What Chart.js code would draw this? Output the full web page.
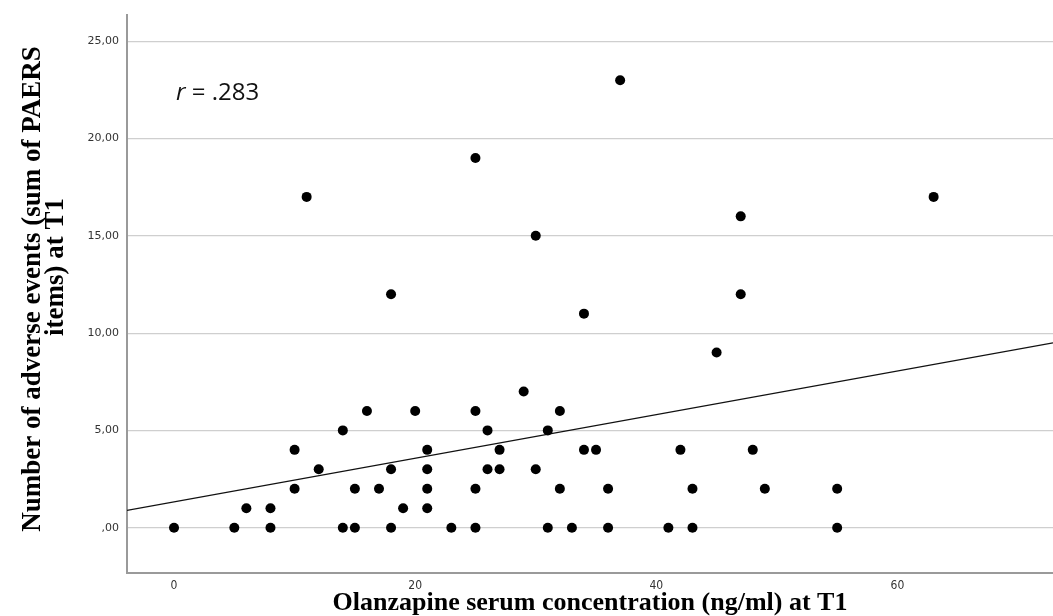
<!DOCTYPE html>
<html>
<head>
<meta charset="utf-8">
<script src="https://cdn.jsdelivr.net/npm/chart.js@4"></script>
<style>
html, body { margin: 0; padding: 0; overflow: hidden; background: #fff; }
#wrap { width: 1053px; height: 616px; position: relative; }
</style>
</head>
<body>
<div id="wrap"><canvas id="scatterChart"></canvas></div>
<script>
// Olanzapine serum concentration (ng/ml) at T1
const concentration = [0,5,6,8,8,10,10,11,12,14,14,15,15,16,17,18,18,18,19,20,21,21,21,21,23,25,25,25,25,26,26,27,27,29,30,30,31,31,32,32,33,34,34,35,36,36,37,41,42,43,43,45,47,47,48,49,55,55,63];
// number of adverse events (sum of PAERS items)
const events = [0,0,1,0,1,2,4,17,3,0,5,0,2,6,2,0,3,12,1,6,1,2,3,4,0,0,2,6,19,3,5,3,4,7,3,15,0,5,2,6,0,4,11,4,0,2,23,0,4,0,2,9,12,16,4,2,0,2,17];

// fit line ends
const fitX = [-3.9, 72.9];
const fitY = [0.89, 9.5];

const xTicks = [0, 20, 40, 60];
const yTicks = [0, 5, 10, 15, 20, 25];
const yTickLabels = [",00", "5,00", "10,00", "15,00", "20,00", "25,00"];

let points = concentration.map((c, i) => ({x: c, y: events[i]}));
let fitPoints = fitX.map((x, i) => ({x: x, y: fitY[i]}));

// axis titles and r label
const titlesPlugin = {
  id: 'titles',
  afterDraw(chart) {
    const ctx = chart.ctx;
    const area = chart.chartArea;
    ctx.save();
    ctx.fillStyle = '#000';
    ctx.textAlign = 'center';
    ctx.textBaseline = 'middle';
    ctx.font = 'bold 26px "Liberation Serif", serif';
    ctx.fillText('Olanzapine serum concentration (ng/ml) at T1', (area.left + area.right) / 2, 603);

    ctx.font = 'bold 27px "Liberation Serif", serif';
    ctx.translate(33, 289);
    ctx.rotate(-Math.PI / 2);
    ctx.fillText('Number of adverse events (sum of PAERS', 0, 0);
    ctx.fillText('items) at T1', 22, 23);
    ctx.restore();

    ctx.save();
    ctx.fillStyle = '#111';
    ctx.textBaseline = 'middle';
    ctx.textAlign = 'left';
    ctx.font = 'italic 24px "Open Sans", sans-serif';
    ctx.fillText('r', 176, 93);
    let w = ctx.measureText('r').width;
    ctx.font = '24px "Open Sans", sans-serif';
    ctx.fillText(' = .283', 176 + w, 93);
    ctx.restore();
  }
};

const ctx = document.getElementById('scatterChart');

new Chart(ctx, {
  type: 'scatter',
  data: {
    datasets: [{
      label: 'Patients',
      data: points,
      pointRadius: 5,
      pointBackgroundColor: '#000',
      pointBorderWidth: 0
    }, {
      type: 'line',
      label: 'Fit',
      data: fitPoints,
      showLine: true,
      pointRadius: 0,
      borderColor: '#111',
      borderWidth: 1.4,
      fill: false
    }]
  },
  options: {
    responsive: true,
    maintainAspectRatio: false,
    animation: false,
    layout: { autoPadding: false, padding: { top: 14, right: 0, left: 0, bottom: 0 } },
    plugins: {
      legend: { display: false },
      tooltip: { enabled: false }
    },
    scales: {
      x: {
        type: 'linear',
        min: -3.9,
        max: 72.9,
        afterBuildTicks: s => { s.ticks = xTicks.map(v => ({value: v})); },
        afterFit: s => { s.height = 43; },
        grid: { display: false, drawTicks: false, tickLength: 0 },
        border: { display: true, color: '#9a9a9a', width: 2 },
        ticks: {
          padding: 6,
          color: '#333',
          font: { family: '"Liberation Sans Narrow", "DejaVu Sans Condensed", sans-serif', size: 12 }
        }
      },
      y: {
        type: 'linear',
        min: -2.33,
        max: 26.37,
        afterBuildTicks: s => { s.ticks = yTicks.map(v => ({value: v})); },
        afterFit: s => { s.width = 127; },
        grid: { color: '#cfcfcf', lineWidth: 1.2, drawTicks: false },
        border: { display: true, color: '#9a9a9a', width: 2 },
        ticks: {
          padding: 8,
          color: '#333',
          font: { family: '"DejaVu Sans", sans-serif', size: 11 },
          callback: v => yTickLabels[yTicks.indexOf(v)]
        }
      }
    }
  },
  plugins: [titlesPlugin]
});
</script>
</body>
</html>
